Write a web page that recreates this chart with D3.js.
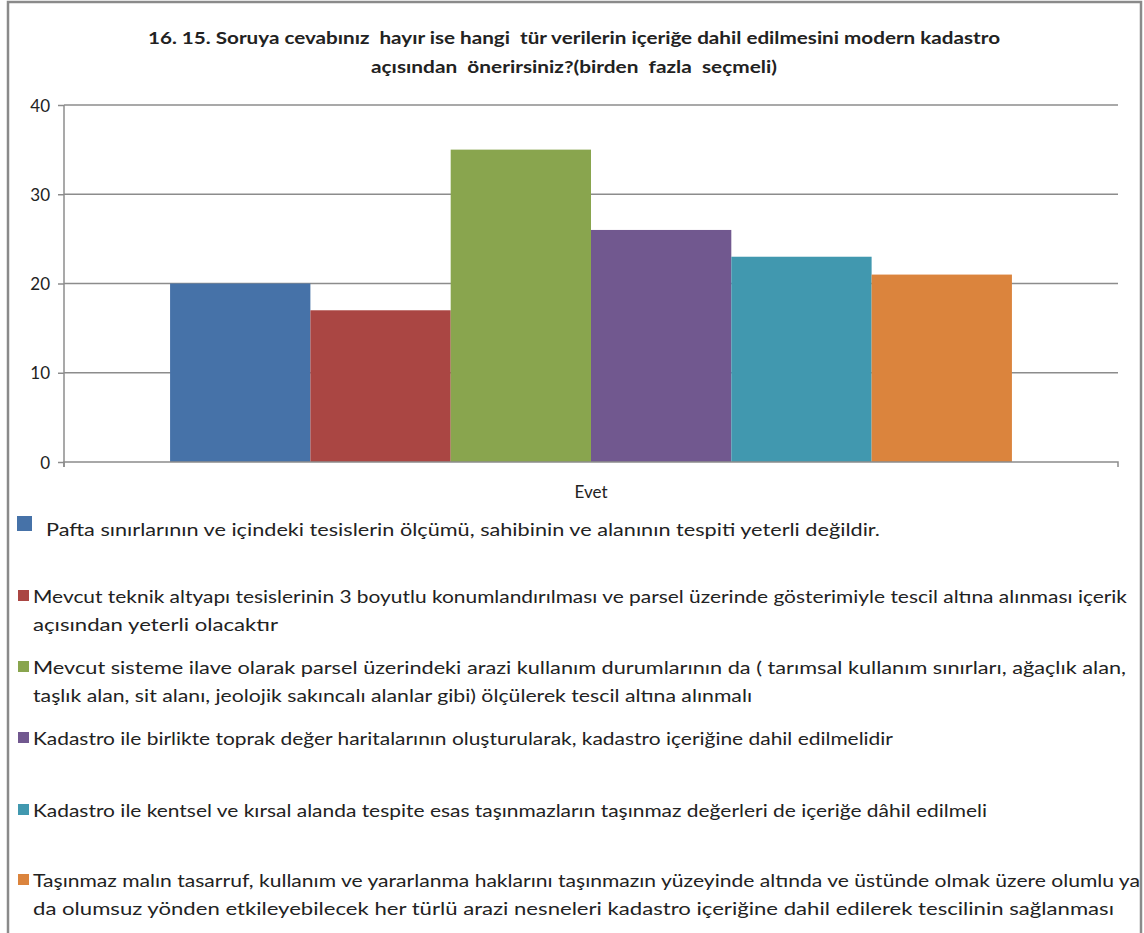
<!DOCTYPE html>
<html><head><meta charset="utf-8">
<script src="https://cdn.jsdelivr.net/npm/d3@7"></script>
<style>
html,body{margin:0;padding:0;background:#fff;}
svg{display:block;}
text{font-family:Lato,"Open Sans",sans-serif;fill:#222;}
</style></head>
<body>
<svg id="chart" width="1144" height="933"></svg>
<script>
const titleLines = ["16. 15. Soruya cevabınız  hayır ise hangi  tür verilerin içeriğe dahil edilmesini modern kadastro",
                    "açısından  önerirsiniz?(birden  fazla  seçmeli)"];
const categories = ["Evet"];
const seriesNames = [
  "Pafta sınırlarının ve içindeki tesislerin ölçümü, sahibinin ve alanının tespiti yeterli değildir.",
  "Mevcut teknik altyapı tesislerinin 3 boyutlu konumlandırılması ve parsel üzerinde gösterimiyle tescil altına alınması içerik açısından yeterli olacaktır",
  "Mevcut sisteme ilave olarak parsel üzerindeki arazi kullanım durumlarının da ( tarımsal kullanım sınırları, ağaçlık alan, taşlık alan, sit alanı, jeolojik sakıncalı alanlar gibi) ölçülerek tescil altına alınmalı",
  "Kadastro ile birlikte toprak değer haritalarının oluşturularak, kadastro içeriğine dahil edilmelidir",
  "Kadastro ile kentsel ve kırsal alanda tespite esas taşınmazların taşınmaz değerleri de içeriğe dâhil edilmeli",
  "Taşınmaz malın tasarruf, kullanım ve yararlanma haklarını taşınmazın yüzeyinde altında ve üstünde olmak üzere olumlu ya da olumsuz yönden etkileyebilecek her türlü arazi nesneleri kadastro içeriğine dahil edilerek tescilinin sağlanması"
];
const legendLines = [
  ["Pafta sınırlarının ve içindeki tesislerin ölçümü, sahibinin ve alanının tespiti yeterli değildir."],
  ["Mevcut teknik altyapı tesislerinin 3 boyutlu konumlandırılması ve parsel üzerinde gösterimiyle tescil altına alınması içerik",
   "açısından yeterli olacaktır"],
  ["Mevcut sisteme ilave olarak parsel üzerindeki arazi kullanım durumlarının da ( tarımsal kullanım sınırları, ağaçlık alan,",
   "taşlık alan, sit alanı, jeolojik sakıncalı alanlar gibi) ölçülerek tescil altına alınmalı"],
  ["Kadastro ile birlikte toprak değer haritalarının oluşturularak, kadastro içeriğine dahil edilmelidir"],
  ["Kadastro ile kentsel ve kırsal alanda tespite esas taşınmazların taşınmaz değerleri de içeriğe dâhil edilmeli"],
  ["Taşınmaz malın tasarruf, kullanım ve yararlanma haklarını taşınmazın yüzeyinde altında ve üstünde olmak üzere olumlu ya",
   "da olumsuz yönden etkileyebilecek her türlü arazi nesneleri kadastro içeriğine dahil edilerek tescilinin sağlanması"]
];
const values = [20, 17, 35, 26, 23, 21];
const yTicks = [0, 10, 20, 30, 40];
const colors = ["#4672A8", "#AA4643", "#89A54E", "#71588F", "#4198AF", "#DB843D"];

const svg = d3.select("#chart");
// outer border
svg.append("rect").attr("x", 8).attr("y", 2).attr("width", 1133).attr("height", 940)
  .attr("fill", "#fff").attr("stroke", "#8a8a8a").attr("stroke-width", 2.5);

// title
const title = svg.append("text").attr("text-anchor", "middle")
  .style("font-weight", "bold").style("font-size", "17px").style("white-space", "pre");
title.selectAll("tspan").data(titleLines).join("tspan")
  .attr("x", 574).attr("y", (d, i) => 44 + i * 29)
  .attr("textLength", (d, i) => [852, 406][i]).attr("lengthAdjust", "spacingAndGlyphs")
  .text(d => d);

const plot = {left: 64, right: 1118, top: 105, bottom: 462};
const y = d3.scaleLinear().domain([0, 40]).range([plot.bottom, plot.top]);
const x0 = d3.scaleBand().domain(categories).range([plot.left, plot.right]).paddingInner(0).paddingOuter(0.126);
const x1 = d3.scaleBand().domain(d3.range(values.length)).range([0, x0.bandwidth()]).padding(0);

// gridlines
svg.append("g").selectAll("line").data(yTicks.filter(t => t > 0)).join("line")
  .attr("x1", plot.left).attr("x2", plot.right)
  .attr("y1", d => y(d)).attr("y2", d => y(d))
  .attr("stroke", "#8c8c8c").attr("stroke-width", 1.5);

// bars
svg.append("g").selectAll("rect").data(values).join("rect")
  .attr("x", (d, i) => x0(categories[0]) + x1(i))
  .attr("width", x1.bandwidth())
  .attr("y", d => y(d)).attr("height", d => y(0) - y(d))
  .attr("fill", (d, i) => colors[i]);

// y axis
const yAxis = d3.axisLeft(y).tickValues(yTicks).tickSize(6).tickPadding(8);
const gy = svg.append("g").attr("transform", `translate(${plot.left},0)`).call(yAxis);
gy.select(".domain").attr("stroke", "#8c8c8c").attr("stroke-width", 1.5).attr("d", `M0,${plot.top}V${plot.bottom + 5}`);
gy.selectAll(".tick line").attr("stroke", "#8c8c8c").attr("stroke-width", 1.5);
gy.selectAll(".tick text").style("font-size", "17px").style("font-family", "Lato, sans-serif").attr("fill", "#333").attr("dy", "0.36em");

// x axis
const xAxis = d3.axisBottom(x0).tickSize(0).tickPadding(24);
const gx = svg.append("g").attr("transform", `translate(0,${plot.bottom})`).call(xAxis);
gx.select(".domain").attr("stroke", "#8c8c8c").attr("stroke-width", 1.5)
  .attr("d", `M${plot.left},5V0H${plot.right}V5`);
gx.selectAll(".tick text").style("font-size", "17px").style("font-family", "Lato, sans-serif").attr("fill", "#222").attr("dy", "0.71em");

// legend
const legendBaselines = [536, 603, 674, 745, 817, 887];
const lineGap = 28;
const legendTextX = [46, 33, 33, 33, 33, 33];
const legendWidths = [[834], [1094, 245], [1093, 719], [860], [954], [1107, 1081]];
const lg = svg.append("g");
legendLines.forEach((lines, i) => {
  const b = legendBaselines[i];
  const sq = i === 0 ? 15 : 11;
  lg.append("rect").attr("x", i === 0 ? 17 : 18).attr("y", i === 0 ? b - 20 : b - 13)
    .attr("width", sq).attr("height", sq).attr("fill", colors[i]);
  const t = lg.append("text").style("font-size", "18px").attr("fill", "#222");
  t.selectAll("tspan").data(lines).join("tspan")
    .attr("x", legendTextX[i]).attr("y", (d, j) => b + j * lineGap)
    .attr("textLength", (d, j) => legendWidths[i][j]).attr("lengthAdjust", "spacingAndGlyphs")
    .text(d => d);
});
</script>
</body></html>
